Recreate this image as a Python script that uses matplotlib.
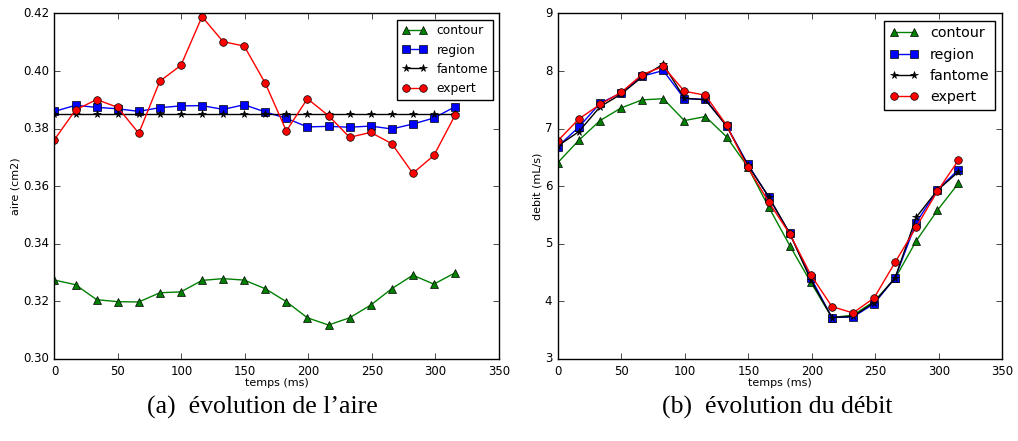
import numpy as np
import matplotlib
matplotlib.use('Agg')
import matplotlib.pyplot as plt
from matplotlib.ticker import FormatStrFormatter

# temps (ms)
temps = [0, 16.6, 33.2, 49.8, 66.4, 83.0, 99.6, 116.2, 132.8, 149.4,
         166.0, 182.6, 199.2, 215.8, 232.4, 249.0, 265.6, 282.2, 298.8, 315.4]

# aire (cm2)
aire_contour = [0.3274, 0.3258, 0.3206, 0.3199, 0.3198, 0.3230, 0.3233, 0.3273, 0.3279, 0.3274,
                0.3244, 0.3199, 0.3143, 0.3118, 0.3143, 0.3187, 0.3244, 0.3291, 0.3260, 0.3299]
aire_region = [0.3860, 0.3881, 0.3874, 0.3869, 0.3860, 0.3873, 0.3879, 0.3880, 0.3867, 0.3883,
               0.3858, 0.3836, 0.3806, 0.3808, 0.3805, 0.3809, 0.3799, 0.3816, 0.3837, 0.3876]
aire_fantome = [0.385] * 20
aire_expert = [0.3762, 0.3865, 0.3901, 0.3874, 0.3784, 0.3965, 0.4020, 0.4189, 0.4102, 0.4087,
               0.3958, 0.3792, 0.3904, 0.3845, 0.3770, 0.3787, 0.3748, 0.3645, 0.3707, 0.3846]

# debit (mL/s)
debit_contour = [6.41, 6.80, 7.14, 7.36, 7.50, 7.52, 7.14, 7.21, 6.86, 6.34,
                 5.64, 4.97, 4.33, 3.72, 3.76, 4.00, 4.40, 5.05, 5.58, 6.05]
debit_region = [6.69, 7.03, 7.44, 7.62, 7.91, 8.01, 7.52, 7.51, 7.05, 6.39,
                5.81, 5.18, 4.41, 3.72, 3.73, 3.96, 4.41, 5.37, 5.93, 6.29]
debit_fantome = [6.70, 6.95, 7.38, 7.60, 7.90, 8.12, 7.53, 7.50, 7.05, 6.37,
                 5.82, 5.18, 4.37, 3.72, 3.74, 3.98, 4.41, 5.46, 5.93, 6.25]
debit_expert = [6.79, 7.17, 7.42, 7.63, 7.94, 8.08, 7.65, 7.58, 7.06, 6.33,
                5.73, 5.17, 4.46, 3.91, 3.80, 4.06, 4.68, 5.29, 5.91, 6.45]

plt.style.use('classic')
plt.rcParams['figure.facecolor'] = 'white'
plt.rcParams['savefig.facecolor'] = 'white'
plt.rcParams['font.family'] = ['DejaVu Sans']

fig = plt.figure(figsize=(10.18, 4.41), dpi=100)
ax1 = fig.add_axes([0.0535, 0.186, 0.4366, 0.7834])
ax2 = fig.add_axes([0.548, 0.186, 0.4366, 0.7834])


def draw(ax, contour, region, fantome, expert, legsize):
    ax.plot(temps, contour, '-^', color='green', label='contour', markersize=5.5, lw=1)
    ax.plot(temps, region, '-s', color='blue', label='region', markersize=5.5, lw=1)
    ax.plot(temps, fantome, '-*', color='black', label='fantome', markersize=5.5, lw=1)
    ax.plot(temps, expert, '-o', color='red', label='expert', markersize=5.5, lw=1)
    ax.set_xlim(0, 350)
    ax.set_xticks(np.arange(0, 351, 50))
    ax.set_xlabel('temps (ms)', fontsize=8, labelpad=0)
    ax.tick_params(labelsize=8.5)
    ax.legend(loc='upper right', fontsize=legsize, numpoints=2)


draw(ax1, aire_contour, aire_region, aire_fantome, aire_expert, 8.8)
ax1.set_ylim(0.30, 0.42)
ax1.set_yticks(np.arange(0.30, 0.421, 0.02))
ax1.yaxis.set_major_formatter(FormatStrFormatter('%.2f'))
ax1.set_ylabel('aire (cm2)', fontsize=8, labelpad=2)

draw(ax2, debit_contour, debit_region, debit_fantome, debit_expert, 10.3)
ax2.set_ylim(3, 9)
ax2.set_yticks(np.arange(3, 10, 1))
ax2.set_ylabel('debit (mL/s)', fontsize=8, labelpad=2)

fig.text(262 / 1018, 1 - 407 / 441, '(a)  évolution de l\u2019aire', family='Liberation Serif',
         fontsize=18.5, ha='center', va='center')
fig.text(777 / 1018, 1 - 407 / 441, '(b)  évolution du débit', family='Liberation Serif',
         fontsize=18.5, ha='center', va='center')

fig.savefig('out.png', dpi=100)
